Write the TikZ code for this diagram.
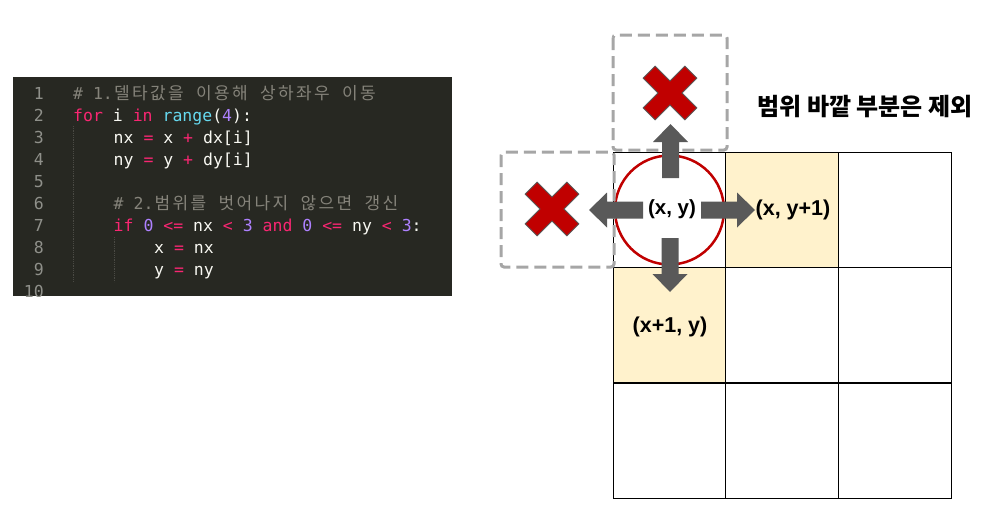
\documentclass[tikz,border=0pt]{standalone}
\usepackage{fontspec}
\setmainfont{Liberation Sans}
\newfontfamily\mono{DejaVu Sans Mono}
\newfontfamily\kr{Noto Sans CJK KR}
\definecolor{codebg}{HTML}{272822}
\definecolor{kw}{HTML}{F92672}
\definecolor{fn}{HTML}{66D9EF}
\definecolor{num}{HTML}{AE81FF}
\definecolor{txt}{HTML}{F8F8F2}
\definecolor{cmt}{HTML}{85837A}
\definecolor{lnum}{HTML}{8F908A}
\definecolor{guide}{HTML}{4A4A44}
\definecolor{cellyellow}{HTML}{FFF2CC}
\definecolor{darkred}{HTML}{C00000}
\definecolor{arrgray}{HTML}{595959}
\definecolor{dashgray}{HTML}{A6A6A6}
\newcommand\kg[1]{\makebox[18pt][c]{\kr\fontsize{17}{18}\selectfont #1}}
\newcommand\ks{\hspace{10pt}}
\newcommand\blockarrow[3]{\fill[arrgray, shift={(#1,#2)}, rotate=#3] (0,-8.5) -- (36,-8.5) -- (36,-17.5) -- (54,0) -- (36,17.5) -- (36,8.5) -- (0,8.5) -- cycle;}
\newcommand\redx[2]{\filldraw[fill=darkred, draw=arrgray, line width=0.8pt, shift={(#1,#2)}, rotate=45] (29.5,8.5) -- (8.5,8.5) -- (8.5,29.5) -- (-8.5,29.5) -- (-8.5,8.5) -- (-29.5,8.5) -- (-29.5,-8.5) -- (-8.5,-8.5) -- (-8.5,-29.5) -- (8.5,-29.5) -- (8.5,-8.5) -- (29.5,-8.5) -- cycle;}
\begin{document}
\begin{tikzpicture}[x=1pt,y=-1pt,
  codetxt/.style={anchor=base west, inner sep=0pt, text=txt, font=\mono\fontsize{16.5}{18}\selectfont},
  lnstyle/.style={anchor=base east, inner sep=0pt, text=lnum, font=\mono\fontsize{16.5}{18}\selectfont},
  cell/.style={draw=black, line width=1.1pt, minimum width=112.7pt, minimum height=115.3pt, inner sep=0pt},
  coord/.style={font=\fontsize{21.5}{24}\selectfont\bfseries, text=black, inner sep=1pt},
  dashbox/.style={draw=dashgray, line width=3pt, dash pattern=on 12pt off 6pt, rounded corners=3pt}
]
\useasboundingbox (0,0) rectangle (1002,525);

% ---------------- code panel ----------------
\begin{scope}
\clip (13,77) rectangle (452,296);
\fill[codebg] (13,77) rectangle (452,296);
\foreach \n in {1,...,10} {
  \node[lnstyle] (ln\n) at (44,{99+22.1*(\n-1)}) {\n};
}
\draw[guide, densely dotted, line width=0.8pt] (73,126) -- (73,282);
\draw[guide, densely dotted, line width=0.8pt] (114,237) -- (114,282);
\node[codetxt] (code1) at (73,99) {\textcolor{cmt}{\# 1.\kg{델}\kg{타}\kg{값}\kg{을}\ks\kg{이}\kg{용}\kg{해}\ks\kg{상}\kg{하}\kg{좌}\kg{우}\ks\kg{이}\kg{동}}};
\node[codetxt] (code2) at (73,121.1) {\textcolor{kw}{for} i \textcolor{kw}{in} \textcolor{fn}{range}(\textcolor{num}{4}):};
\node[codetxt] (code3) at (113.5,143.2) {nx \textcolor{kw}{=} x \textcolor{kw}{+} dx[i]};
\node[codetxt] (code4) at (113.5,165.3) {ny \textcolor{kw}{=} y \textcolor{kw}{+} dy[i]};
\node[codetxt] (code6) at (113.5,209.5) {\textcolor{cmt}{\# 2.\kg{범}\kg{위}\kg{를}\ks\kg{벗}\kg{어}\kg{나}\kg{지}\ks\kg{않}\kg{으}\kg{면}\ks\kg{갱}\kg{신}}};
\node[codetxt] (code7) at (113.5,231.6) {\textcolor{kw}{if} \textcolor{num}{0} \textcolor{kw}{<=} nx \textcolor{kw}{<} \textcolor{num}{3} \textcolor{kw}{and} \textcolor{num}{0} \textcolor{kw}{<=} ny \textcolor{kw}{<} \textcolor{num}{3}:};
\node[codetxt] (code8) at (154,253.7) {x \textcolor{kw}{=} nx};
\node[codetxt] (code9) at (154,275.8) {y \textcolor{kw}{=} ny};
\end{scope}

% ---------------- grid ----------------
\node[cell] (c00) at (669.5,210) {};
\node[cell, fill=cellyellow] (c01) at (782.2,210) {};
\node[cell] (c02) at (894.9,210) {};
\node[cell, fill=cellyellow] (c10) at (669.5,325.3) {};
\node[cell] (c11) at (782.2,325.3) {};
\node[cell] (c12) at (894.9,325.3) {};
\node[cell] (c20) at (669.5,440.6) {};
\node[cell] (c21) at (782.2,440.6) {};
\node[cell] (c22) at (894.9,440.6) {};

% current position circle
\node[circle, draw=darkred, fill=white, line width=2.5pt, minimum size=109pt, inner sep=0pt] (cur) at (c00.center) {};

% out-of-range boxes
\draw[dashbox] (613,35) rectangle (727,150);
\draw[dashbox] (501,152) rectangle (614,267);
\redx{670}{93}
\redx{552}{209}

% arrows
\blockarrow{670.5}{178}{90}
\blockarrow{643}{210}{180}
\blockarrow{701}{210}{0}
\blockarrow{670}{238}{-90}

% labels
\node[coord] (lxy) at (672,209) {\fontsize{20.5}{24}\selectfont(x, y)};
\node[coord] (lxy1) at (793,210) {(x, y+1)};
\node[coord] (lx1y) at (670,327) {(x+1, y)};
\node[inner sep=0pt] (note) at (865,107) {\kr\bfseries\fontsize{24}{28}\selectfont 범위 바깥 부분은 제외};
\end{tikzpicture}
\end{document}
